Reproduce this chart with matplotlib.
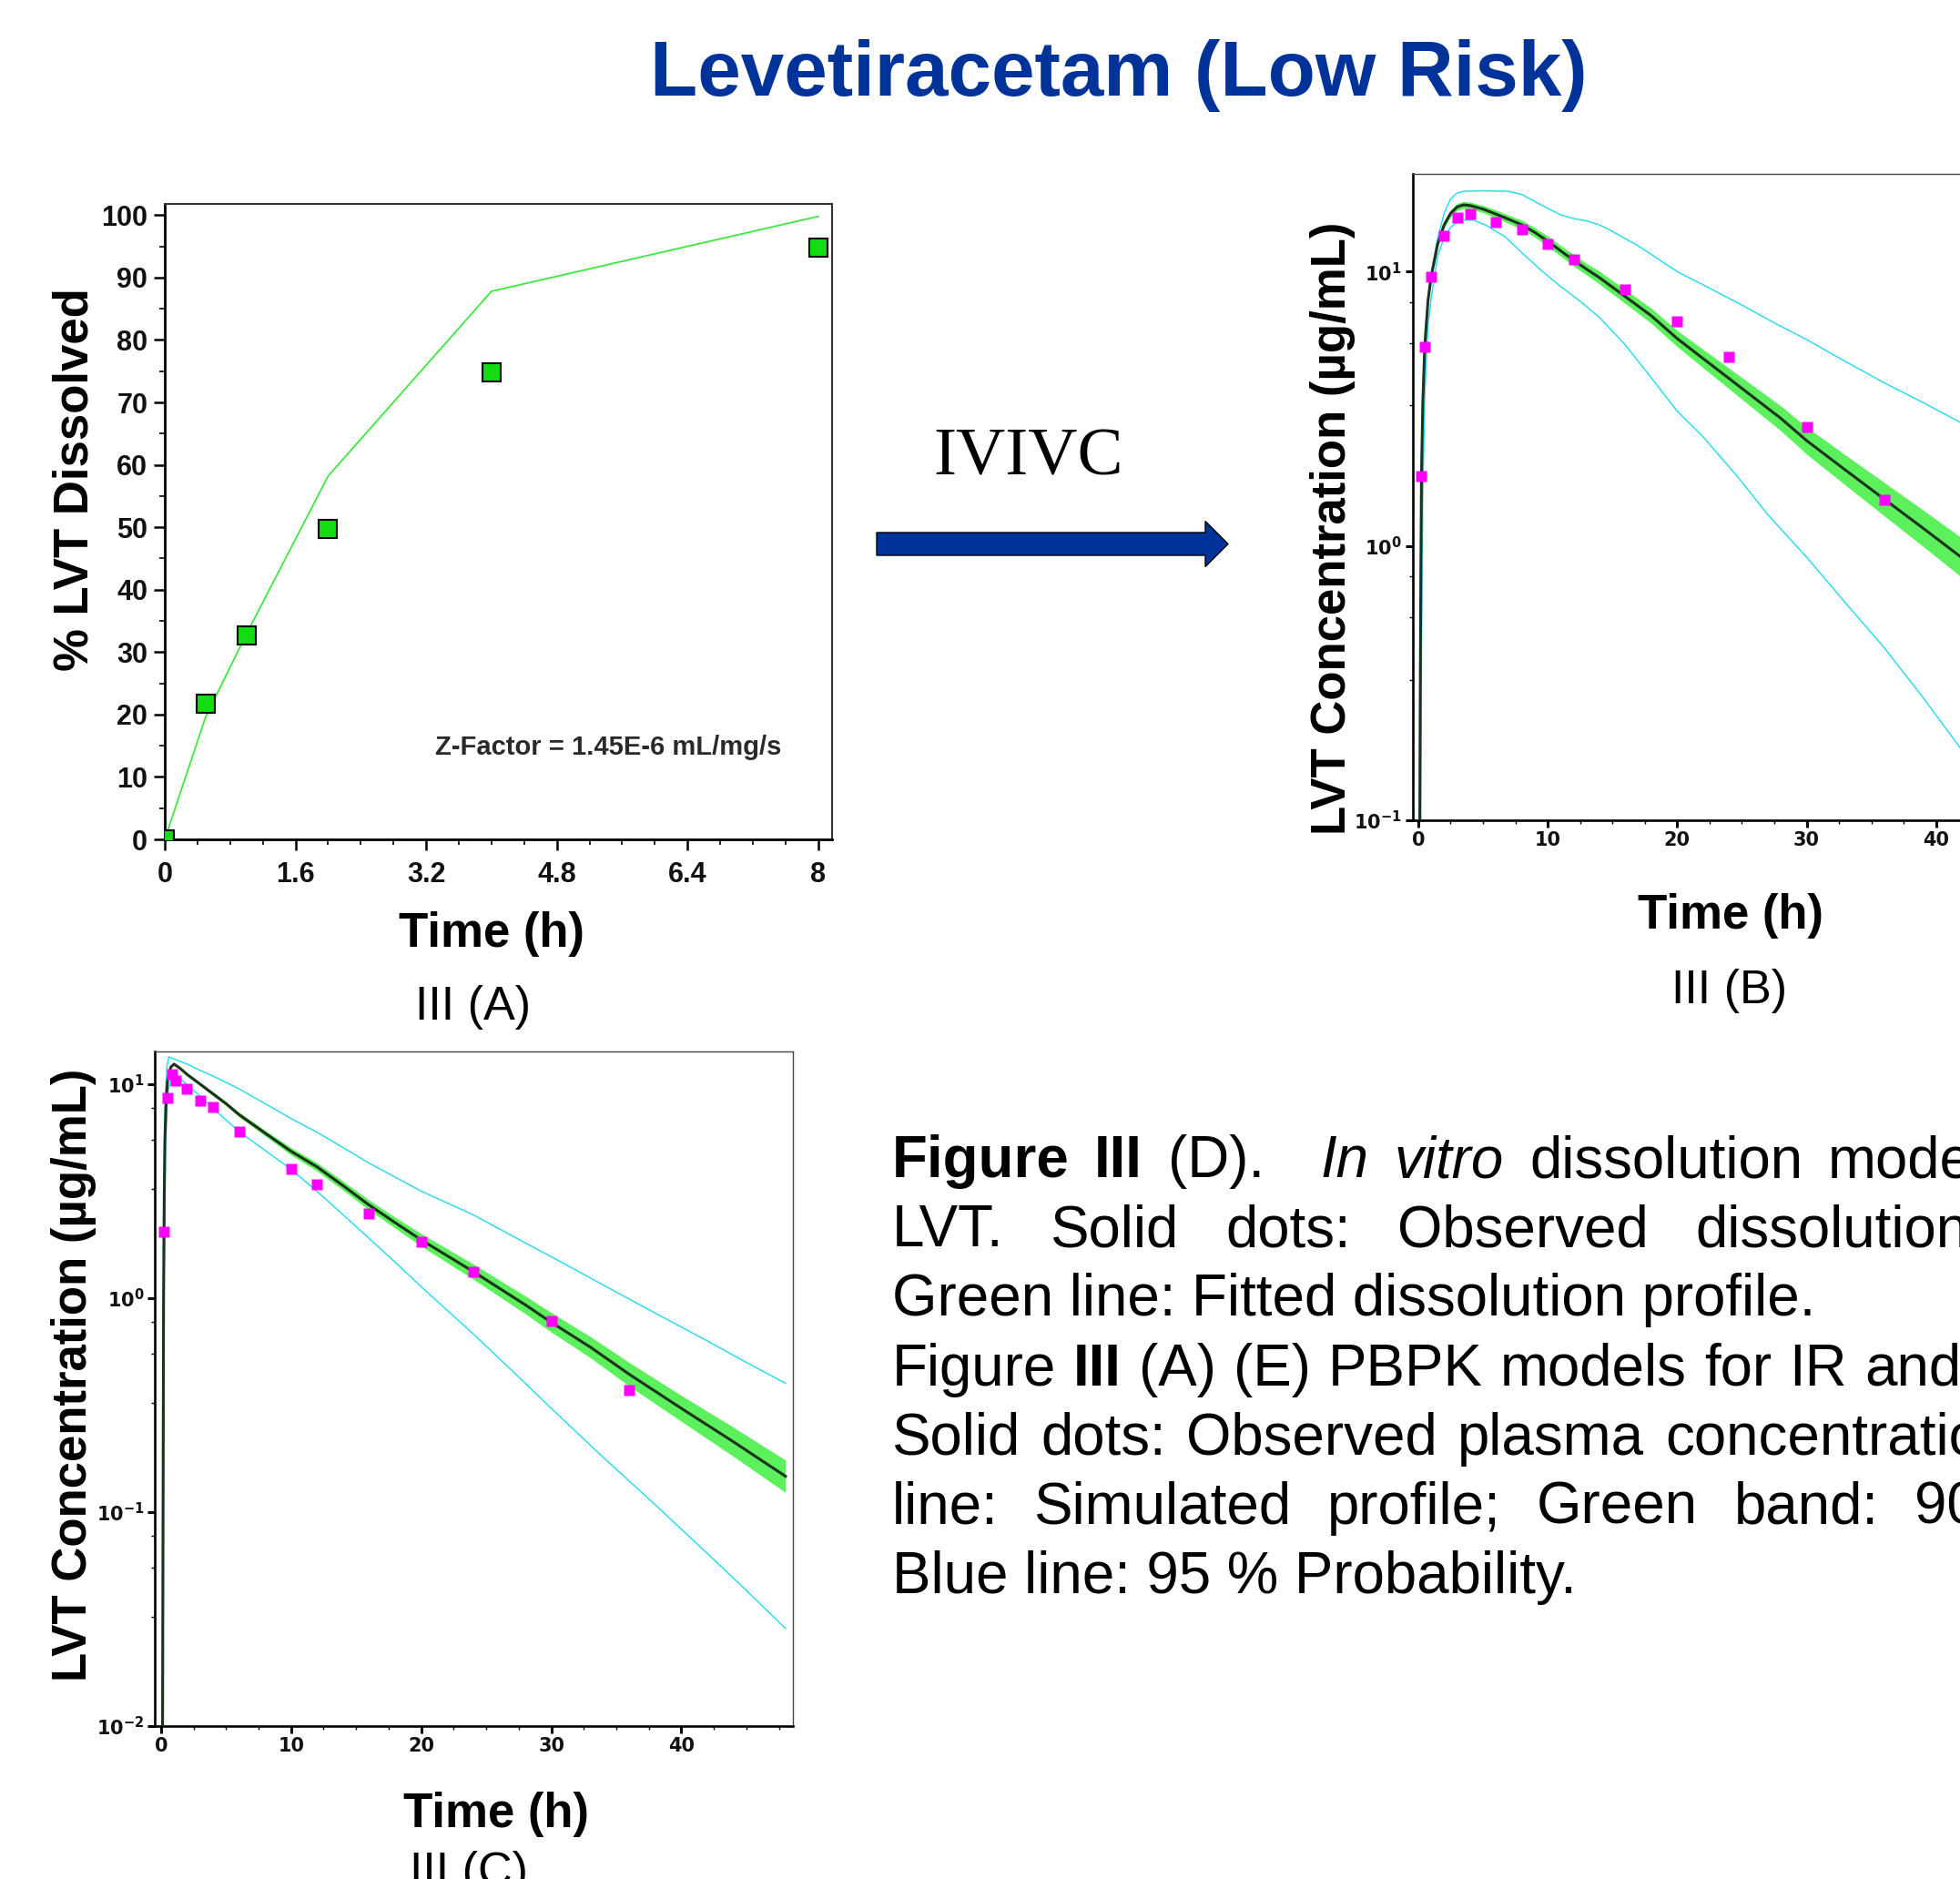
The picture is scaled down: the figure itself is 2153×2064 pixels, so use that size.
import matplotlib
matplotlib.use('Agg')
import matplotlib.pyplot as plt
from matplotlib.patches import FancyArrow
from matplotlib.ticker import FixedLocator, MultipleLocator
import numpy as np

plt.rcParams['font.family'] = ['Liberation Sans', 'DejaVu Sans']
plt.rcParams['mathtext.fontset'] = 'dejavusans'

# ---------------- data ----------------
# Panel A: in vitro dissolution
dis_obs_t = [0, 0.5, 1, 2, 4, 8]
dis_obs = [0, 21.8, 32.6, 49.7, 74.8, 94.8]
dis_fit_t = [0, 0.5, 1, 2, 4, 8]
dis_fit = [0, 19.6, 32.9, 58.2, 87.8, 99.8]
dis_xticks = [0, 1.6, 3.2, 4.8, 6.4, 8]
dis_xticklabels = ['0', '1.6', '3.2', '4.8', '6.4', '8']
dis_yticks = [0, 10, 20, 30, 40, 50, 60, 70, 80, 90, 100]

# Panel B: PBPK (IVIVC)
obs_b_t = [0.25, 0.5, 1, 2, 3, 4, 6, 8, 10, 12, 16, 20, 24, 30, 36]
obs_b = [1.8, 5.3, 9.6, 13.5, 15.7, 16.2, 15.1, 14.2, 12.6, 11.1, 8.6, 6.6, 4.87, 2.71, 1.47]
sim_b_t = [0.10, 0.15, 0.20, 0.25, 0.35, 0.50, 0.75, 1.0, 1.5, 2.0,
           2.5, 3.0, 3.5, 4.0, 5.0, 6.0, 7.0, 8.0, 9.0, 10,
           11, 12, 13, 14, 16, 18, 20, 22, 24, 26,
           28, 30, 33, 36, 39, 42, 45, 48]
sim_b = [0.05, 0.25, 0.8, 1.8, 3.3, 5.3, 7.8, 9.6, 12.6, 14.8,
         16.3, 17.2, 17.5, 17.4, 16.9, 16.2, 15.5, 14.8, 13.9, 12.9,
         11.9, 11.0, 10.2, 9.5, 8.1, 6.9, 5.7, 4.82, 4.08, 3.45,
         2.92, 2.42, 1.89, 1.48, 1.16, 0.905, 0.706, 0.551]
band_b_spread = [1.02, 1.02, 1.02, 1.02, 1.02, 1.02, 1.02, 1.02, 1.025, 1.025,
                 1.03, 1.03, 1.03, 1.03, 1.03, 1.035, 1.035, 1.04, 1.04, 1.045,
                 1.045, 1.05, 1.05, 1.055, 1.06, 1.065, 1.07, 1.08, 1.09, 1.10,
                 1.11, 1.12, 1.135, 1.15, 1.165, 1.18, 1.19, 1.20]
up_b_t = [0.10, 0.15, 0.20, 0.25, 0.35, 0.50, 0.75, 1.0, 1.5, 2.0,
          2.5, 3.0, 3.5, 5.0, 7.0, 8.0, 9.0, 10, 11, 12,
          13, 14, 15, 17, 20, 22.5, 25, 27.5, 30, 33,
          36, 39, 42, 45, 48]
up_b = [0.1, 0.4, 1.0, 2.0, 3.6, 5.6, 8.0, 9.9, 13.2, 16.3,
        18.4, 19.3, 19.6, 19.7, 19.6, 19.1, 18.0, 17.0, 16.1, 15.6,
        15.3, 14.8, 14.0, 12.4, 10.0, 8.7, 7.55, 6.5, 5.65, 4.7,
        3.93, 3.33, 2.8, 2.4, 2.05]
lo_b_t = [0.15, 0.20, 0.25, 0.35, 0.50, 0.75, 1.0, 1.5, 2.0, 2.5,
          3.0, 3.5, 4.3, 5.3, 6.7, 8.1, 9.5, 10.9, 12.5, 14,
          16, 18, 20, 22, 24.7, 27, 30, 33, 36, 39,
          42, 45, 48]
lo_b = [0.05, 0.15, 0.4, 1.5, 3.5, 6.3, 8.0, 11.4, 13.3, 14.5,
        15.1, 15.4, 15.4, 14.7, 13.4, 11.6, 10.1, 8.9, 7.8, 6.8,
        5.4, 4.1, 3.1, 2.5, 1.78, 1.3, 0.91, 0.62, 0.425, 0.28,
        0.18, 0.12, 0.08]

# Panel C: PBPK
obs_c_t = [0.25, 0.5, 0.85, 1.15, 2, 3, 4, 6, 10, 12, 16, 20, 24, 30, 36]
obs_c = [2.05, 8.6, 11.1, 10.4, 9.5, 8.4, 7.8, 6.0, 4.0, 3.4, 2.48, 1.83, 1.33, 0.78, 0.37]
sim_c_t = [0.12, 0.16, 0.20, 0.25, 0.30, 0.40, 0.50, 0.75, 1.0, 1.5,
           2, 3, 4, 5, 6, 8, 10, 12, 14, 16,
           18, 20, 24, 28, 30, 33, 36, 40, 44, 48]
sim_c = [0.008, 0.1, 1.0, 3.0, 5.5, 8.5, 10.3, 12.0, 12.4, 11.8,
         11.1, 10.0, 9.0, 8.1, 7.2, 5.9, 4.85, 4.1, 3.35, 2.72,
         2.25, 1.87, 1.33, 0.93, 0.77, 0.59, 0.44, 0.305, 0.213, 0.147]
band_c_spread = [1.01, 1.01, 1.01, 1.01, 1.01, 1.01, 1.01, 1.01, 1.01, 1.01,
                 1.015, 1.015, 1.02, 1.02, 1.025, 1.03, 1.04, 1.045, 1.05, 1.055,
                 1.06, 1.07, 1.085, 1.10, 1.11, 1.12, 1.135, 1.15, 1.17, 1.19]
up_c_t = [0.10, 0.15, 0.20, 0.30, 0.45, 0.60, 1.0, 2, 3, 4,
          6, 8, 10, 12, 14, 16, 20, 24, 28, 30,
          34, 38, 42, 45, 48]
up_c = [0.01, 0.3, 2.5, 7.5, 12.0, 13.4, 13.1, 12.4, 11.6, 10.9,
        9.5, 8.1, 6.9, 5.95, 5.05, 4.27, 3.16, 2.45, 1.81, 1.56,
        1.15, 0.85, 0.63, 0.50, 0.40]
lo_c_t = [0.15, 0.20, 0.25, 0.35, 0.50, 0.90, 1.5, 2, 3, 4,
          6, 8, 10, 12, 14, 16, 18, 20, 24, 28,
          30, 34, 38, 42, 45, 48]
lo_c = [0.01, 0.2, 1.5, 5.0, 9.0, 11.3, 10.6, 9.9, 8.8, 7.7,
        6.0, 4.9, 4.0, 3.15, 2.45, 1.9, 1.47, 1.13, 0.68, 0.4,
        0.305, 0.18, 0.108, 0.064, 0.043, 0.0286]

pk_xticks = [0, 10, 20, 30, 40]
pk_xticklabels = ['0', '10', '20', '30', '40']

# ---------------- figure ----------------
W, H = 2153, 2064
fig = plt.figure(figsize=(W / 100, H / 100), dpi=100)


def fx(x):
    return x / W


def fy(y):
    return 1 - y / H


TXT = '#111111'
LINE_BLK = '#1a331a'
CYAN = '#2fdcec'
BAND = '#5cf05c'
MAG = '#ff00ff'

# ---- Panel A ----
axA = fig.add_axes([fx(181), fy(922), 733 / W, 698 / H])
axA.plot(dis_fit_t, dis_fit, color='#3de83d', lw=1.3, zorder=2)
axA.plot(dis_obs_t, dis_obs, 's', ms=15, mfc='#11dd11', mec='black', mew=1.5, zorder=3)
axA.set_xlim(0, 8.17)
axA.set_ylim(0, 101.8)
axA.set_xticks(dis_xticks)
axA.set_xticklabels(dis_xticklabels, fontsize=22, fontweight='bold', color=TXT)
axA.set_yticks(dis_yticks)
axA.set_yticklabels([str(v) for v in dis_yticks], fontsize=22, fontweight='bold', color=TXT)
axA.xaxis.set_minor_locator(MultipleLocator(0.4))
axA.yaxis.set_minor_locator(MultipleLocator(5))
axA.tick_params(which='major', direction='out', length=8.5, width=1.8)
axA.tick_params(which='minor', direction='out', length=4.5, width=1.2)
axA.tick_params(axis='x', which='major', pad=9)
axA.tick_params(axis='y', which='major', pad=5)
for s in ['left', 'bottom']:
    axA.spines[s].set_linewidth(2.0)
for s in ['top', 'right']:
    axA.spines[s].set_linewidth(1.5)
    axA.spines[s].set_color('#333333')
axA.text(0.665, 0.1447, 'Z-Factor = 1.45E-6 mL/mg/s', transform=axA.transAxes,
         ha='center', va='center', fontsize=21, fontweight='bold', color='#2a2a2a')


def setup_pk(ax, ylims, yticks, ylabels):
    ax.set_yscale('log')
    ax.set_xlim(-0.45, 48.6)
    ax.set_ylim(*ylims)
    ax.set_xticks(pk_xticks)
    ax.set_xticklabels(pk_xticklabels, fontsize=15, fontweight='bold',
                       family='DejaVu Sans', color=TXT)
    ax.set_yticks(yticks)
    ax.set_yticklabels(ylabels, fontsize=15, color=TXT)
    minors = []
    for d in yticks:
        minors += [d * 3.25, d * 5.5, d * 7.75]
    ax.yaxis.set_minor_locator(FixedLocator(minors))
    ax.xaxis.set_minor_locator(MultipleLocator(2.5))
    ax.tick_params(which='major', direction='out', length=5.5, width=2.2)
    ax.tick_params(which='minor', direction='out', length=3, width=1.0)
    ax.tick_params(axis='x', which='major', pad=3)
    ax.tick_params(axis='y', which='major', pad=3)
    for s in ['left', 'bottom']:
        ax.spines[s].set_linewidth(1.9)
    for s in ['top', 'right']:
        ax.spines[s].set_linewidth(1.0)
        ax.spines[s].set_color('#444444')


def draw_pk(ax, st, sv, spread, ut, uv, lt, lv, ot, ov):
    sv_a = np.array(sv)
    sp = np.array(spread)
    ax.fill_between(st, sv_a / sp, sv_a * sp, color=BAND, lw=0, zorder=1)
    ax.plot(ut, uv, color=CYAN, lw=1.1, zorder=2)
    ax.plot(lt, lv, color=CYAN, lw=1.1, zorder=2)
    ax.plot(st, sv, color=LINE_BLK, lw=2.2, zorder=3)
    ax.plot(ot, ov, 's', ms=8, color=MAG, mec='none', zorder=4)


# ---- Panel B ----
axB = fig.add_axes([fx(1551.5), fy(901), 697.5 / W, 710 / H])
draw_pk(axB, sim_b_t, sim_b, band_b_spread, up_b_t, up_b, lo_b_t, lo_b, obs_b_t, obs_b)
setup_pk(axB, (0.1, 22.7), [0.1, 1, 10],
         [r'$\mathbf{10^{-1}}$', r'$\mathbf{10^{0}}$', r'$\mathbf{10^{1}}$'])

# ---- Panel C ----
axC = fig.add_axes([fx(170.4), fy(1896), 701 / W, 741 / H])
draw_pk(axC, sim_c_t, sim_c, band_c_spread, up_c_t, up_c, lo_c_t, lo_c, obs_c_t, obs_c)
setup_pk(axC, (0.01, 14.2), [0.01, 0.1, 1, 10],
         [r'$\mathbf{10^{-2}}$', r'$\mathbf{10^{-1}}$', r'$\mathbf{10^{0}}$', r'$\mathbf{10^{1}}$'])

# ---- axis labels ----
LBL = 38
for (x, y, s) in [(97, 527, '% LVT Dissolved'),
                  (1478, 580, 'LVT Concentration (µg/mL)'),
                  (95, 1510, 'LVT Concentration (µg/mL)')]:
    fig.text(fx(x), fy(y), s, rotation=90, rotation_mode='anchor', ha='center',
             va='baseline', fontsize=LBL, fontweight='bold', color='black')
for (x, y) in [(539.5, 1040), (1901, 1020), (544.6, 2007)]:
    fig.text(fx(x), fy(y), 'Time (h)', ha='center', va='baseline',
             fontsize=LBL, fontweight='bold', color='black')
for (x, y, s) in [(519.5, 1120, 'III (A)'), (1899.5, 1102, 'III (B)'), (514.5, 2071, 'III (C)')]:
    fig.text(fx(x), fy(y), s, ha='center', va='baseline', fontsize=37.5, color='black')

# ---- title ----
fig.text(fx(1229), fy(105), 'Levetiracetam (Low Risk)', ha='center', va='baseline',
         fontsize=61.5, fontweight='bold', color='#003399')

# ---- IVIVC arrow ----
fig.text(fx(1129.5), fy(522), 'IVIVC', ha='center', va='baseline', fontsize=54,
         family='Liberation Serif', color='black')
arrow = FancyArrow(fx(963), fy(597.5), (1349 - 963) / W, 0, width=25 / H,
                   head_width=50 / H, head_length=25 / W, length_includes_head=True,
                   transform=fig.transFigure, fc='#003399', ec='black', lw=1.0)
fig.patches.append(arrow)

# ---- caption (justified lines: first word start, last word start) ----
CAP = 45.8
B, N, I = 'bold', 'normal', 'italic'
caption = [
    # baseline, x_first, x_last, [(word, weight, style, gap_weight_before)]
    (1293, 979.5, 2008, [('Figure', B, N, 0), ('III', B, N, 1), ('(D).', N, N, 1),
                         ('In', N, I, 2.2), ('vitro', N, I, 1), ('dissolution', N, N, 1),
                         ('model', N, N, 1)]),
    (1369, 979.5, 1862, [('LVT.', N, N, 0), ('Solid', N, N, 1), ('dots:', N, N, 1),
                         ('Observed', N, N, 1), ('dissolution', N, N, 1)]),
    (1445, 979.5, None, [('Green line: Fitted dissolution profile.', N, N, 0)]),
    (1522, 979.5, 2048, [('Figure', N, N, 0), ('III', B, N, 1), ('(A)', N, N, 1),
                         ('(E)', N, N, 1), ('PBPK', N, N, 1), ('models', N, N, 1),
                         ('for', N, N, 1), ('IR', N, N, 1), ('and', N, N, 1)]),
    (1598, 979.5, 1829, [('Solid', N, N, 0), ('dots:', N, N, 1), ('Observed', N, N, 1),
                         ('plasma', N, N, 1), ('concentration;', N, N, 1)]),
    (1674, 979.5, 2103, [('line:', N, N, 0), ('Simulated', N, N, 1), ('profile;', N, N, 1),
                         ('Green', N, N, 1), ('band:', N, N, 1), ('90 %', N, N, 1)]),
    (1750, 979.5, None, [('Blue line: 95 % Probability.', N, N, 0)]),
]
renderer = fig.canvas.get_renderer()
for bl, x0, xl, words in caption:
    objs = []
    for (s, wt, st, g) in words:
        t = fig.text(fx(x0), fy(bl), s, ha='left', va='baseline', fontsize=CAP,
                     fontweight=wt, fontstyle=st, color='black')
        objs.append((t, t.get_window_extent(renderer).width, g))
    if xl is None or len(objs) < 2:
        continue
    total_w = sum(w for (_, w, _) in objs[:-1])
    total_g = sum(g for (_, _, g) in objs[1:])
    unit = (xl - x0 - total_w) / total_g
    x = x0
    for k, (t, w, g) in enumerate(objs):
        if k > 0:
            x += unit * g
        t.set_x(fx(x))
        x += w

fig.savefig('out.png', dpi=100)
